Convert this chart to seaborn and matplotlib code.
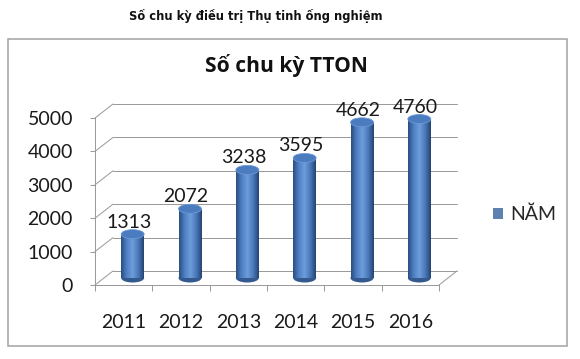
import numpy as np
import pandas as pd
import matplotlib
matplotlib.use("Agg")
import matplotlib.pyplot as plt
from matplotlib.patches import Ellipse, Rectangle
import seaborn as sns

# ---- data ----
years = ["2011", "2012", "2013", "2014", "2015", "2016"]
values = [1313, 2072, 3238, 3595, 4662, 4760]
series_name = "NĂM"
main_title = "Số chu kỳ điều trị Thụ tinh ống nghiệm"
chart_title = "Số chu kỳ TTON"
y_ticks = [0, 1000, 2000, 3000, 4000, 5000]

df = pd.DataFrame({"year": years, "value": values, "series": [series_name] * len(years)})

sns.set_theme(style="white")
plt.rcParams["font.family"] = ["Lato", "Open Sans", "DejaVu Sans"]

DPI = 72
W, H = 580, 359
fig = plt.figure(figsize=(W / DPI, H / DPI), dpi=DPI)
fig.patch.set_facecolor("white")

# axes in pixel terms: front x axis 95..439, y 285 (0) .. 118 (5000)
L, R, B, T = 95, 439, 285, 118
ax = fig.add_axes([L / W, 1 - B / H, (R - L) / W, (B - T) / H])
ax.set_facecolor("none")

blue = "#4f81bd"
sns.barplot(data=df, x="year", y="value", hue="series", palette=[blue],
            width=0.4, dodge=False, ax=ax, legend=True, zorder=3)

ax.set_xlim(-0.5, len(years) - 0.5)
ax.set_ylim(0, 5000)

px_x = (R - L) / len(years)      # pixels per x unit
px_y = (B - T) / 5000.0          # pixels per y unit

def dx(px):
    return px / px_x

def dy(px):
    return px / px_y

grid_c = "#9a9a9a"
# back wall gridlines (3D depth offset 18px right, 14px up)
for yv in y_ticks:
    ax.plot([-0.5 + dx(18), len(years) - 0.5 + dx(18)], [yv + dy(14), yv + dy(14)],
            color=grid_c, lw=1, clip_on=False, zorder=1)
    ax.plot([-0.5, -0.5 + dx(18)], [yv, yv + dy(14)], color=grid_c, lw=1,
            clip_on=False, zorder=1)
ax.plot([len(years) - 0.5, len(years) - 0.5 + dx(18)], [0, dy(14)], color=grid_c,
        lw=1, clip_on=False, zorder=1)

# cylinders: shift bars to mid-depth
grad = np.linspace(0, 1, 256)
cmap = matplotlib.colors.LinearSegmentedColormap.from_list(
    "cyl", ["#2a4c80", "#4f80c4", "#6e9ddb", "#4a79ba", "#24436f"])
ell_h = dy(9)
for p in ax.patches:
    if p.get_height() <= 0:
        continue
    x0 = p.get_x() + dx(9)
    w = p.get_width()
    h = p.get_height()
    y0 = dy(7)
    p.set_x(x0)
    p.set_y(y0)
    p.set_facecolor("#3d68a6")
    p.set_edgecolor("none")
    p.set_zorder(3)
    # bottom ellipse
    ax.add_patch(Ellipse((x0 + w / 2, y0), w, ell_h, facecolor="#33598f",
                         edgecolor="none", zorder=2.9, clip_on=False))
    im = ax.imshow(grad[None, :], cmap=cmap, aspect="auto",
                   extent=(x0, x0 + w, y0, y0 + h), zorder=3.1)
    im.set_clip_path(p)
    # top ellipse
    ax.add_patch(Ellipse((x0 + w / 2, y0 + h), w, ell_h, facecolor="#4b7cc0",
                         edgecolor="#6e9ad6", lw=0.8, zorder=3.3, clip_on=False))

ax.set_xlim(-0.5, len(years) - 0.5)
ax.set_ylim(0, 5000)

# data labels
for i, v in enumerate(values):
    ax.annotate(f"{v}", (i, v), xytext=(5, 13.5), textcoords="offset points",
                ha="center", va="baseline", fontsize=19.5, color="#1a1a1a",
                zorder=5, annotation_clip=False)

# axes styling
for s in ["top", "right"]:
    ax.spines[s].set_visible(False)
for s in ["left", "bottom"]:
    ax.spines[s].set_color(grid_c)
    ax.spines[s].set_linewidth(1)
ax.set_xlabel("")
ax.set_ylabel("")
ax.set_yticks(y_ticks)
ax.set_yticklabels([str(t) for t in y_ticks])
ax.tick_params(axis="y", which="major", length=5, width=1, color=grid_c,
               direction="out", pad=17, labelsize=19.5, labelcolor="#1a1a1a", left=True)
ax.set_xticks(range(len(years)))
ax.set_xticklabels(years)
ax.set_xticks(np.arange(-0.5, len(years)), minor=True)
ax.tick_params(axis="x", which="major", length=0, pad=29, labelsize=19.5,
               labelcolor="#1a1a1a")
ax.tick_params(axis="x", which="minor", length=6, width=1, color=grid_c,
               direction="out", bottom=True)

# legend
sns.move_legend(ax, loc="center left", bbox_to_anchor=(492 / W, 1 - 214 / H),
                bbox_transform=fig.transFigure, frameon=False, title=None,
                fontsize=19.5, handlelength=0.58, handleheight=0.58,
                handletextpad=0.35, borderpad=0, borderaxespad=0)

# titles
fig.text(256 / W, 1 - 16 / H, main_title, ha="center", va="center",
         fontsize=11.5, fontweight="bold", family=["DejaVu Sans"], color="#111111")
fig.text(286 / W, 1 - 72 / H, chart_title, ha="center", va="baseline",
         fontsize=21, fontweight="bold", family=["Open Sans", "DejaVu Sans"],
         color="#111111")

# outer frame
fig.add_artist(Rectangle((8 / W, 1 - 346 / H), (567 - 8) / W, (346 - 39) / H,
                         transform=fig.transFigure, fill=False,
                         edgecolor="#a0a0a0", lw=1.5))

fig.savefig("out.png", dpi=DPI, facecolor="white")
